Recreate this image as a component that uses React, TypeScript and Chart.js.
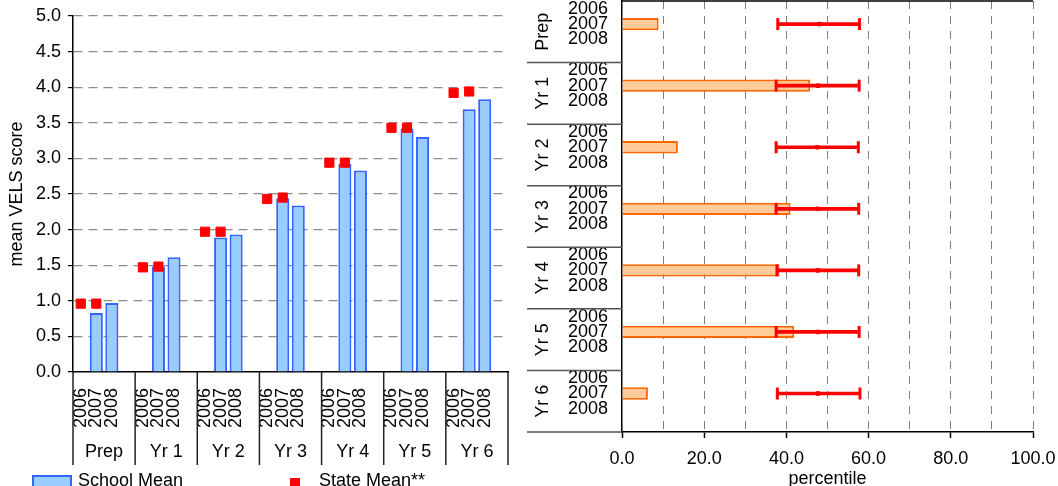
import React, { useEffect, useRef } from 'react';
import { Chart, registerables } from 'chart.js';

Chart.register(...registerables);

// ---------- data ----------
const groups = ['Prep', 'Yr 1', 'Yr 2', 'Yr 3', 'Yr 4', 'Yr 5', 'Yr 6'];
const years = ['2006', '2007', '2008'];

// left chart: mean VELS score
const schoolMean2007 = [0.83, 1.48, 1.89, 2.44, 2.92, 3.42, 3.69];
const schoolMean2008 = [0.97, 1.61, 1.93, 2.34, 2.83, 3.30, 3.83];
const stateMean2006 = [0.96, 1.47, 1.97, 2.43, 2.94, 3.43, 3.92];
const stateMean2007 = [0.96, 1.48, 1.97, 2.45, 2.94, 3.43, 3.94];

// right chart: percentile
const percentile2007 = [8.9, 45.8, 13.6, 41.0, 38.3, 41.9, 6.3];
const stateLow = [37.9, 37.5, 37.5, 37.5, 37.7, 37.5, 37.8];
const stateMid = [48.0, 47.7, 47.5, 47.6, 47.6, 47.7, 47.7];
const stateHigh = [57.8, 57.7, 57.5, 57.6, 57.6, 57.7, 57.9];

const FONT = '"Liberation Sans", Arial, Helvetica, sans-serif';
const SLOTS = 4; // 3 year slots + 1 empty slot per group
const slotLabels = groups.flatMap(() => [...years, '']);

function toSlots(values: any[], offset: number) {
  const arr: any[] = new Array(groups.length * SLOTS).fill(null);
  values.forEach((v, g) => {
    arr[g * SLOTS + offset] = v;
  });
  return arr;
}

function mergeSlots(a: any[], b: any[]) {
  return a.map((v, i) => (v !== null ? v : b[i]));
}

const leftSeparators = {
  id: 'leftSeparators',
  afterDraw(chart: any) {
    const xs = chart.scales.x;
    const ctx = chart.ctx;
    const top = chart.chartArea.bottom;
    const bottom = chart.scales.x2.bottom;
    ctx.save();
    ctx.strokeStyle = '#222';
    ctx.lineWidth = 1.5;
    for (let g = 0; g <= groups.length; g++) {
      const px = xs.getPixelForValue(g * SLOTS - 0.5);
      ctx.beginPath();
      ctx.moveTo(px, top);
      ctx.lineTo(px, bottom);
      ctx.stroke();
    }
    ctx.restore();
  },
};

const rightSeparators = {
  id: 'rightSeparators',
  afterDraw(chart: any) {
    const ys = chart.scales.y;
    const ca = chart.chartArea;
    const ctx = chart.ctx;
    ctx.save();
    ctx.strokeStyle = '#555';
    ctx.lineWidth = 1.5;
    for (let g = 1; g <= groups.length; g++) {
      const py = ys.getPixelForValue(g * SLOTS - 0.5);
      ctx.beginPath();
      ctx.moveTo(7, py);
      ctx.lineTo(ca.left, py);
      ctx.stroke();
    }
    ctx.strokeStyle = '#000';
    ctx.beginPath();
    ctx.moveTo(ca.left, ca.top);
    ctx.lineTo(ca.right, ca.top);
    ctx.stroke();
    ctx.restore();
  },
};

export default function App() {
  const leftRef = useRef<HTMLCanvasElement>(null);
  const rightRef = useRef<HTMLCanvasElement>(null);

  useEffect(() => {
    Chart.defaults.font.family = FONT;
    Chart.defaults.font.size = 18;
    Chart.defaults.color = '#000';

    const stateSlots = mergeSlots(toSlots(stateMean2006, 0), toSlots(stateMean2007, 1));
    const schoolSlots = mergeSlots(toSlots(schoolMean2007, 1), toSlots(schoolMean2008, 2));

    const left = new Chart(leftRef.current as HTMLCanvasElement, {
      type: 'bar',
      data: {
        labels: slotLabels,
        datasets: [
          {
            type: 'line',
            label: 'State Mean**',
            data: stateSlots,
            showLine: false,
            pointStyle: 'rect',
            pointRadius: 6.5,
            pointHoverRadius: 6.5,
            pointBackgroundColor: '#FF0000',
            pointBorderColor: '#FF0000',
            pointBorderWidth: 1,
            order: 0,
          } as any,
          {
            type: 'bar',
            label: 'School Mean',
            data: schoolSlots,
            backgroundColor: '#99CCFF',
            borderColor: '#3366FF',
            borderWidth: 2,
            barPercentage: 0.84,
            categoryPercentage: 1,
            order: 1,
          } as any,
        ],
      },
      options: {
        responsive: false,
        animation: false,
        layout: { autoPadding: false, padding: { top: 16, right: 12, bottom: 21, left: 0 } },
        plugins: { legend: { display: false }, tooltip: { enabled: false } },
        scales: {
          x: {
            type: 'category',
            offset: true,
            weight: 0,
            grid: { display: true, drawOnChartArea: false, drawTicks: false },
            border: { display: true, color: '#000', width: 1.5 },
            ticks: {
              autoSkip: false,
              minRotation: 90,
              maxRotation: 90,
              padding: 16,
              font: { size: 18 },
              color: '#000',
            },
            afterFit: (s: any) => {
              s.height = 60;
              s.paddingLeft = 0;
              s.paddingRight = 0;
            },
          },
          x2: {
            type: 'category',
            labels: groups,
            position: 'bottom',
            offset: true,
            weight: 1,
            grid: { display: false, drawTicks: false },
            border: { display: false },
            ticks: { autoSkip: false, maxRotation: 0, padding: 9, font: { size: 18 }, color: '#000' },
            afterFit: (s: any) => {
              s.height = 33;
              s.paddingLeft = 0;
              s.paddingRight = 0;
            },
          },
          y: {
            min: 0,
            max: 5,
            ticks: {
              stepSize: 0.5,
              callback: (v: any) => Number(v).toFixed(1),
              padding: 7,
              font: { size: 18 },
              color: '#000',
            },
            grid: {
              color: (c: any) => (c.tick && c.tick.value === 0 ? 'rgba(0,0,0,0)' : '#8c8c8c'),
              tickColor: '#000',
              tickLength: 5,
              lineWidth: 1.2,
            },
            border: { display: true, color: '#000', width: 1.5, dash: [9, 6] },
            title: {
              display: true,
              text: 'mean VELS score',
              font: { size: 18 },
              color: '#000',
              padding: { top: 6, bottom: 0 },
            },
            afterFit: (s: any) => {
              s.width = 73;
              s.paddingTop = 0;
              s.paddingBottom = 0;
            },
          },
        },
      } as any,
      plugins: [leftSeparators],
    });

    const rangeSlots = toSlots(
      stateLow.map((lo, g) => [lo, stateHigh[g]]),
      1
    );

    const right = new Chart(rightRef.current as HTMLCanvasElement, {
      type: 'bar',
      data: {
        labels: slotLabels,
        datasets: [
          {
            type: 'line',
            label: 'State low',
            indexAxis: 'y',
            data: toSlots(stateLow, 1),
            showLine: false,
            pointStyle: 'line',
            pointRotation: 90,
            pointRadius: 6,
            pointHoverRadius: 6,
            pointBorderWidth: 3,
            pointBorderColor: '#FF0000',
            borderColor: '#FF0000',
            order: 0,
          } as any,
          {
            type: 'line',
            label: 'State high',
            indexAxis: 'y',
            data: toSlots(stateHigh, 1),
            showLine: false,
            pointStyle: 'line',
            pointRotation: 90,
            pointRadius: 6,
            pointHoverRadius: 6,
            pointBorderWidth: 3,
            pointBorderColor: '#FF0000',
            borderColor: '#FF0000',
            order: 0,
          } as any,
          {
            type: 'line',
            label: 'State mid',
            indexAxis: 'y',
            data: toSlots(stateMid, 1),
            showLine: false,
            pointStyle: 'rect',
            pointRadius: 2.5,
            pointHoverRadius: 2.5,
            pointBackgroundColor: '#FF0000',
            pointBorderColor: '#FF0000',
            pointBorderWidth: 1,
            order: 0,
          } as any,
          {
            type: 'bar',
            label: 'State range',
            data: rangeSlots,
            backgroundColor: '#FF0000',
            borderWidth: 0,
            barThickness: 3,
            grouped: false,
            order: 1,
          } as any,
          {
            type: 'bar',
            label: 'percentile',
            data: toSlots(percentile2007, 1),
            backgroundColor: '#FFCC99',
            borderColor: '#FF6600',
            borderWidth: 2,
            barPercentage: 0.8,
            categoryPercentage: 1,
            grouped: false,
            order: 2,
          } as any,
        ],
      },
      options: {
        indexAxis: 'y',
        responsive: false,
        animation: false,
        layout: { autoPadding: false, padding: { top: 1, right: 25, bottom: 0, left: 0 } },
        plugins: { legend: { display: false }, tooltip: { enabled: false } },
        scales: {
          x: {
            type: 'linear',
            position: 'bottom',
            min: 0,
            max: 100,
            ticks: {
              stepSize: 10,
              autoSkip: false,
              maxRotation: 0,
              callback: (v: any) => (Number(v) % 20 === 0 ? Number(v).toFixed(1) : ''),
              padding: 10,
              font: { size: 18 },
              color: '#000',
            },
            grid: {
              color: (c: any) => (c.tick && c.tick.value === 0 ? 'rgba(0,0,0,0)' : '#808080'),
              lineWidth: 1,
              tickLength: 6,
              tickWidth: 1.5,
              tickColor: (c: any) =>
                c.tick && c.tick.value % 20 === 0 ? '#000' : 'rgba(0,0,0,0)',
            },
            border: { display: true, color: '#000', width: 1.5, dash: [8, 7] },
            title: {
              display: true,
              text: 'percentile',
              font: { size: 18 },
              color: '#000',
              padding: { top: 0, bottom: 10 },
            },
            afterFit: (s: any) => {
              s.height = 68;
              s.paddingLeft = 0;
              s.paddingRight = 0;
            },
          },
          y: {
            type: 'category',
            position: 'left',
            offset: true,
            weight: 0,
            grid: { display: true, drawOnChartArea: false, drawTicks: false },
            border: { display: true, color: '#000', width: 1.5 },
            ticks: { autoSkip: false, padding: 14, font: { size: 18 }, color: '#000' },
            afterFit: (s: any) => {
              s.width = 57;
              s.paddingTop = 0;
              s.paddingBottom = 0;
            },
          },
          y2: {
            type: 'category',
            labels: groups,
            position: 'left',
            offset: true,
            weight: 1,
            grid: { display: false, drawTicks: false },
            border: { display: false },
            ticks: {
              autoSkip: false,
              minRotation: 90,
              maxRotation: 90,
              crossAlign: 'center',
              padding: 3,
              font: { size: 18 },
              color: '#000',
            },
            afterFit: (s: any) => {
              s.width = 45;
              s.paddingTop = 0;
              s.paddingBottom = 0;
            },
          },
        },
      } as any,
      plugins: [rightSeparators],
    });

    return () => {
      left.destroy();
      right.destroy();
    };
  }, []);

  const textStyle: React.CSSProperties = {
    position: 'absolute',
    fontFamily: FONT,
    fontSize: 18,
    lineHeight: '21px',
    color: '#000',
    whiteSpace: 'nowrap',
  };

  return (
    <div
      style={{
        position: 'fixed',
        left: 0,
        top: 0,
        width: 1058,
        height: 486,
        overflow: 'hidden',
        background: '#fff',
      }}
    >
      <div style={{ position: 'absolute', left: 0, top: 0, width: 520, height: 486 }}>
        <canvas ref={leftRef} width={520} height={486} style={{ display: 'block' }} />
      </div>
      <div style={{ position: 'absolute', left: 520, top: 0, width: 538, height: 500 }}>
        <canvas ref={rightRef} width={538} height={500} style={{ display: 'block' }} />
      </div>
      <div
        style={{
          position: 'absolute',
          left: 32,
          top: 475,
          width: 40,
          height: 16,
          boxSizing: 'border-box',
          background: '#99CCFF',
          border: '2px solid #3366FF',
        }}
      />
      <div style={{ ...textStyle, left: 78, top: 470 }}>School Mean</div>
      <div
        style={{
          position: 'absolute',
          left: 290,
          top: 478,
          width: 10,
          height: 10,
          background: '#FF0000',
        }}
      />
      <div style={{ ...textStyle, left: 319, top: 470 }}>State Mean**</div>
    </div>
  );
}
